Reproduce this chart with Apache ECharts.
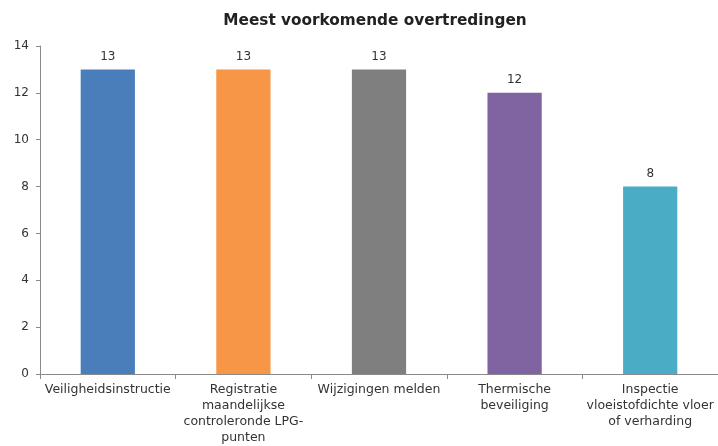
<!DOCTYPE html>
<html><head><meta charset="utf-8">
<script src="https://cdn.jsdelivr.net/npm/echarts@6/dist/echarts.min.js"></script>
<style>html,body{margin:0;padding:0;background:#fff}#c{width:718px;height:446px}</style>
</head><body><div id="c"></div>
<script>
const categories = ["Veiligheidsinstructie","Registratie\nmaandelijkse\ncontroleronde LPG-\npunten","Wijzigingen melden","Thermische\nbeveiliging","Inspectie\nvloeistofdichte vloer\nof verharding"];
const values = [13,13,13,12,8];
const colors = ["#4A7EBB","#F79646","#7F7F7F","#8064A2","#4BACC6"];
const yTicks = {min:0,max:14,interval:2};
const title = "Meest voorkomende overtredingen";
const chart = echarts.init(document.getElementById('c'));
const font = "DejaVu Sans";
chart.setOption({
  animation:false,
  title:{text:title,left:370,top:9,textAlign:'center',textStyle:{fontFamily:font,fontSize:15.3,fontWeight:'bold',color:'#222'}},
  grid:{left:40,right:-7,top:46,bottom:72,containLabel:false},
  xAxis:{type:'category',data:categories,
    axisLine:{lineStyle:{color:'#8a8a8a'}},
    axisTick:{show:true,length:5,lineStyle:{color:'#8a8a8a'}},
    axisLabel:{interval:0,fontFamily:font,fontSize:12.5,color:'#333',lineHeight:16,margin:8}},
  yAxis:{type:'value',min:yTicks.min,max:yTicks.max,interval:yTicks.interval,
    axisLine:{show:true,lineStyle:{color:'#8a8a8a'}},
    axisTick:{show:true,length:4,lineStyle:{color:'#8a8a8a'}},
    splitLine:{show:false},
    axisLabel:{fontFamily:font,fontSize:12,color:'#333',margin:11}},
  series:[{type:'bar',barWidth:'40%',
    data:values.map((v,i)=>({value:v,itemStyle:{color:colors[i]}})),
    label:{show:true,position:'top',distance:7,fontFamily:font,fontSize:12,color:'#333'}}]
});
</script></body></html>
